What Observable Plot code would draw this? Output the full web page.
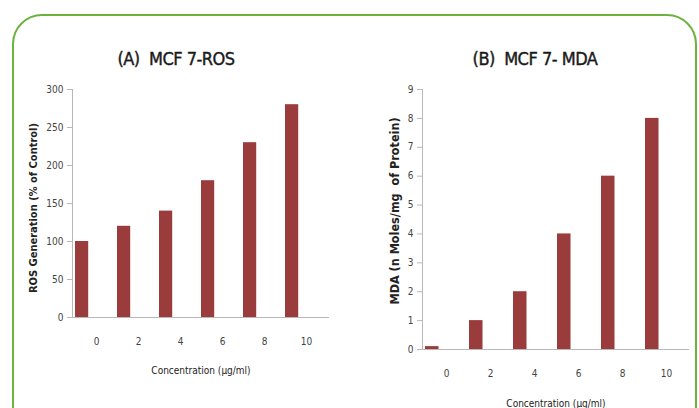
<!DOCTYPE html>
<html>
<head>
<meta charset="utf-8">
<script src="https://cdn.jsdelivr.net/npm/d3@7"></script>
<script src="https://cdn.jsdelivr.net/npm/@observablehq/plot@0.6"></script>
<style>
  html, body { margin: 0; padding: 0; background: #fff; }
  body { width: 699px; height: 408px; position: relative; overflow: hidden;
         font-family: "Liberation Sans Narrow", "DejaVu Sans Condensed", "Open Sans", sans-serif; }
  .frame { position: absolute; left: 12px; top: 14px; width: 681px; height: 440px;
           border: 2px solid #6cb23e; border-radius: 30px; box-sizing: content-box; }
  .panel { position: absolute; top: 0; }
  .title { position: absolute; font-size: 18px; font-weight: normal; color: #1a1a1a; white-space: nowrap;
           letter-spacing: -0.5px; -webkit-text-stroke: 0.4px #1a1a1a; transform: translate(-50%, -50%); }
  .xlab { position: absolute; font-size: 10px; color: #222; white-space: nowrap; transform: translate(-50%, -50%); }
  .ylab { position: absolute; font-weight: bold; color: #222; white-space: nowrap;
          transform: translate(-50%, -50%) rotate(-90deg); }
</style>
</head>
<body>
<div class="frame"></div>
<div id="pa" class="panel" style="left:0px"></div>
<div id="pb" class="panel" style="left:350px"></div>
<div class="title" style="left:176px; top:58px">(A)&nbsp; MCF 7-ROS</div>
<div class="title" style="left:535px; top:58px">(B)&nbsp; MCF 7- MDA</div>
<div class="ylab" style="left:33px; top:208px; font-size:11px">ROS Generation (% of Control)</div>
<div class="ylab" style="left:394px; top:211px; font-size:12.5px">MDA (n Moles/mg&nbsp; of Protein)</div>
<div class="xlab" style="left:201px; top:370px">Concentration (μg/ml)</div>
<div class="xlab" style="left:556px; top:403px">Concentration (μg/ml)</div>
<script>
const concentrations = ["0", "2", "4", "6", "8", "10"];
const rosValues = [100, 120, 140, 180, 230, 280];
const mdaValues = [0.1, 1, 2, 4, 6, 8];
const rosTicks = [0, 50, 100, 150, 200, 250, 300];
const mdaTicks = [0, 1, 2, 3, 4, 5, 6, 7, 8, 9];

const rosData = concentrations.map((c, i) => ({c, v: rosValues[i]}));
const mdaData = concentrations.map((c, i) => ({c, v: mdaValues[i]}));

const barColor = "#9a3b3c";
const axisColor = "#b8b8b8";
const tickText = "#444";

function panel({data, yDomain, yTicks, width, height, ml, mr, mt, mb, insetL, insetR}) {
  return Plot.plot({
    width, height,
    marginLeft: ml, marginRight: mr, marginTop: mt, marginBottom: mb,
    style: {fontFamily: '"Liberation Sans Narrow", "DejaVu Sans Condensed", sans-serif', fontSize: "10px", background: "transparent", color: tickText},
    x: {type: "band", domain: concentrations, padding: 0, label: null},
    y: {domain: yDomain, label: null},
    marks: [
      Plot.barY(data, {x: "c", y: "v", fill: barColor, insetLeft: insetL, insetRight: insetR}),
      Plot.axisY(yTicks, {tickSize: 5, tickPadding: 4, stroke: axisColor, label: null, fill: tickText}),
      Plot.axisX({tickSize: 0, tickPadding: 20, label: null, fill: tickText}),
      Plot.frame({anchor: "left", stroke: axisColor}),
      Plot.ruleY([0], {stroke: axisColor})
    ]
  });
}

document.getElementById("pa").append(panel({
  data: rosData, yDomain: [0, 300], yTicks: rosTicks,
  width: 350, height: 408, ml: 72, mr: 21, mt: 89, mb: 91, insetL: 0, insetR: 28.8
}));
document.getElementById("pb").append(panel({
  data: mdaData, yDomain: [0, 9], yTicks: mdaTicks,
  width: 349, height: 408, ml: 72, mr: 10, mt: 89, mb: 59, insetL: 1, insetR: 29.5
}));
</script>
</body>
</html>
